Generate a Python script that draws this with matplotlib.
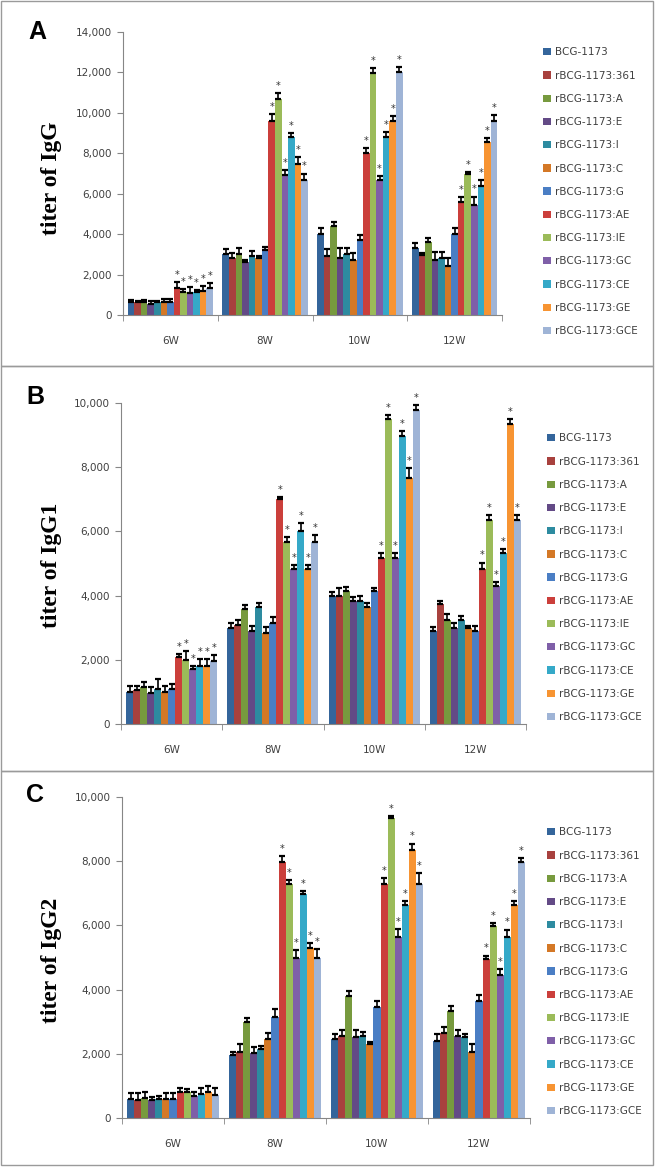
import matplotlib.pyplot as plt
import numpy as np
from matplotlib.patches import Rectangle
from matplotlib.ticker import FuncFormatter

# strains (legend order) and sampling weeks
strains = ['BCG-1173', 'rBCG-1173:361', 'rBCG-1173:A', 'rBCG-1173:E', 'rBCG-1173:I',
           'rBCG-1173:C', 'rBCG-1173:G', 'rBCG-1173:AE', 'rBCG-1173:IE', 'rBCG-1173:GC',
           'rBCG-1173:CE', 'rBCG-1173:GE', 'rBCG-1173:GCE']
weeks = ['6W', '8W', '10W', '12W']
colors = ['#34659b', '#a8413e', '#779a3e', '#634a86', '#2d8ba0', '#d47826', '#4a7ec4',
          '#cb3f3b', '#9bbb59', '#7f5fa8', '#35a9c8', '#f79432', '#9fb4d6']

# rows = strains, columns = weeks
igg = [[650, 3000, 4000, 3300], [620, 2800, 2920, 2970], [660, 3000, 4400, 3600],
       [560, 2640, 2800, 2720], [630, 2900, 3020, 2800], [630, 2800, 2720, 2400],
       [630, 3200, 3700, 4000], [1320, 9600, 8000, 5600], [1120, 10700, 11950, 6970],
       [1070, 6950, 6700, 5450], [1120, 8820, 8820, 6400], [1200, 7480, 9600, 8550],
       [1320, 6700, 12000, 9600]]
igg_err = [[100, 280, 280, 280], [80, 250, 330, 80], [90, 300, 180, 230],
           [140, 100, 500, 380], [80, 260, 300, 300], [150, 120, 360, 400],
           [150, 180, 250, 310], [300, 330, 250, 250], [150, 300, 280, 80],
           [300, 200, 160, 410], [100, 180, 230, 260], [220, 330, 260, 200],
           [280, 300, 260, 310]]

igg1 = [[990, 2980, 3980, 2900], [1060, 3070, 3980, 3730], [1140, 3590, 4150, 3240],
        [960, 2900, 3840, 2980], [1100, 3650, 3840, 3240], [990, 2830, 3650, 2980],
        [1080, 3150, 4150, 2900], [2080, 7000, 5170, 4830], [2000, 5670, 9500, 6340],
        [1700, 4830, 5170, 4310], [1820, 6000, 8980, 5320], [1820, 4830, 7670, 9350],
        [1960, 5670, 9790, 6340]]
igg1_err = [[200, 160, 140, 110], [120, 160, 270, 110], [170, 110, 110, 180],
            [190, 140, 110, 160], [290, 110, 160, 120], [200, 180, 120, 80],
            [170, 170, 100, 140], [100, 80, 160, 200], [280, 150, 120, 180],
            [110, 110, 160, 120], [200, 260, 140, 120], [200, 110, 290, 140],
            [180, 230, 160, 180]]

igg2 = [[590, 1970, 2470, 2410], [570, 2070, 2540, 2650], [620, 2980, 3810, 3320],
        [550, 2020, 2520, 2560], [590, 2150, 2560, 2520], [590, 2460, 2300, 2060],
        [590, 3160, 3470, 3660], [820, 7990, 7300, 4960], [800, 7300, 9340, 5970],
        [700, 4970, 5640, 4470], [750, 6970, 6640, 5640], [800, 5310, 8340, 6640],
        [730, 4970, 7300, 7990]]
igg2_err = [[200, 100, 150, 220], [200, 240, 200, 180], [200, 120, 150, 160],
            [100, 190, 230, 190], [100, 80, 130, 100], [200, 200, 80, 230],
            [200, 240, 160, 160], [100, 170, 180, 100], [100, 100, 80, 90],
            [100, 270, 250, 160], [200, 90, 120, 230], [200, 150, 210, 110],
            [200, 300, 330, 110]]

# weeks (per panel) where the combination strains carry a significance star
sig_igg = [1, 1, 1, 1]
sig_igg1 = [1, 1, 1, 1]
sig_igg2 = [0, 1, 1, 1]
first_sig = 7

W, H = 657, 1167
fig = plt.figure(figsize=(W / 100, H / 100), dpi=100)


def px(x0, y0, x1, y1):
    # pixel box (top-left origin) -> figure rect
    return [x0 / W, 1 - y1 / H, (x1 - x0) / W, (y1 - y0) / H]


grey = '#868686'
txt = '#404040'


def panel(rect, vals, errs, sig, ymax, ystep, ylabel, letter, letter_xy, ylab_xy, leg_xy):
    ax = fig.add_axes(rect)
    vals = np.array(vals)
    errs = np.array(errs)
    n = len(strains)
    bw = 0.9 / n
    x = np.arange(len(weeks))
    for i in range(n):
        xi = x - 0.45 + bw * (i + 0.5)
        ax.bar(xi, vals[i], width=bw, color=colors[i], label=strains[i], zorder=2)
        ax.errorbar(xi, vals[i], yerr=[np.zeros(len(weeks)), errs[i]], fmt='none',
                    ecolor='black', elinewidth=1.2, capsize=2.3, capthick=1.6, zorder=3)
        if i >= first_sig:
            for j in range(len(weeks)):
                if sig[j]:
                    ax.annotate('*', (xi[j], vals[i][j] + errs[i][j]), xytext=(0, 1.5),
                                textcoords='offset points', ha='center', va='bottom',
                                fontsize=7, color='#333333')
    ax.set_xlim(-0.5, len(weeks) - 0.5)
    ax.set_ylim(0, ymax)
    ax.set_yticks(np.arange(0, ymax + 1, ystep))
    ax.yaxis.set_major_formatter(FuncFormatter(lambda v, p: f'{int(v):,}'))
    ax.set_xticks(x)
    ax.set_xticklabels(weeks)
    ax.set_xticks(np.arange(-0.5, len(weeks)), minor=True)
    ax.tick_params(axis='x', which='major', length=0, pad=15, labelsize=7.5, labelcolor=txt)
    ax.tick_params(axis='x', which='minor', length=4, color=grey, direction='out')
    ax.tick_params(axis='y', length=4, color=grey, labelsize=7.5, labelcolor=txt, pad=4)
    for s in ['top', 'right']:
        ax.spines[s].set_visible(False)
    for s in ['left', 'bottom']:
        ax.spines[s].set_color(grey)
        ax.spines[s].set_linewidth(0.8)
    fig.text(ylab_xy[0] / W, 1 - ylab_xy[1] / H, ylabel, rotation=90, ha='center', va='center',
             family='Liberation Serif', weight='bold', fontsize=17)
    fig.text(letter_xy[0] / W, 1 - letter_xy[1] / H, letter, ha='center', va='center',
             family='Liberation Sans', weight='bold', fontsize=18)
    ax.legend(loc='upper left', bbox_to_anchor=(leg_xy[0] / W, 1 - leg_xy[1] / H),
              bbox_transform=fig.transFigure, frameon=False, fontsize=7.5,
              handlelength=0.7, handleheight=0.7, handletextpad=0.4,
              labelspacing=1.27, labelcolor=txt)
    return ax


panel(px(123, 32, 502, 315), igg, igg_err, sig_igg, 14000, 2000, 'titer of IgG',
      'A', (37, 32), (52, 178), (534, 38))
panel(px(121, 403, 526, 724), igg1, igg1_err, sig_igg1, 10000, 2000, 'titer of IgG1',
      'B', (35, 397), (52, 565), (538, 424))
panel(px(122, 797, 530, 1118), igg2, igg2_err, sig_igg2, 10000, 2000, 'titer of IgG2',
      'C', (35, 795), (52, 960), (538, 818))

# panel frames
for y0, y1 in [(1, 366), (366, 771), (771, 1165)]:
    fig.add_artist(Rectangle((1 / W, 1 - y1 / H), 652 / W, (y1 - y0) / H,
                             transform=fig.transFigure, fill=False, edgecolor='#9a9a9a', lw=1))

fig.savefig('out.png', dpi=100)
